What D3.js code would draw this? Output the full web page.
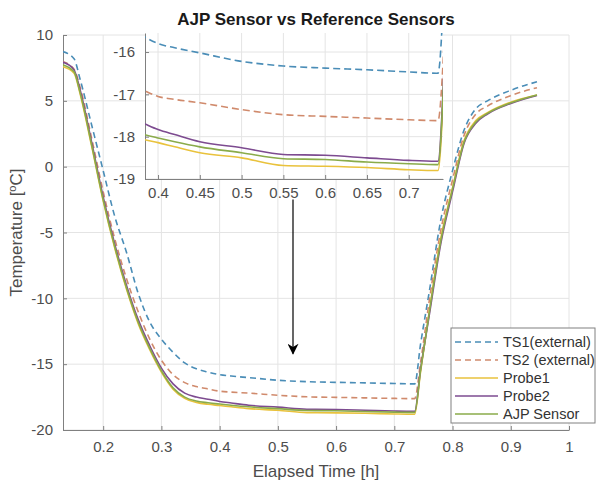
<!DOCTYPE html>
<html>
<head>
<meta charset="utf-8">
<script src="https://cdn.jsdelivr.net/npm/d3@7"></script>
<style>
  body { margin: 0; background: #fff; }
  text { font-family: "Liberation Sans", Arial, sans-serif; }
</style>
</head>
<body>
<div id="vis"></div>
<script>
// Elapsed time [h] shared by all series
const time = [0.13, 0.15, 0.16, 0.18, 0.20, 0.22, 0.24, 0.26, 0.28, 0.30, 0.32, 0.34, 0.36, 0.38,
  0.40, 0.42, 0.45, 0.50, 0.55, 0.60, 0.65, 0.70, 0.733, 0.735, 0.745, 0.76, 0.78, 0.80, 0.82,
  0.84, 0.86, 0.90, 0.945];

// Temperature [C] per sensor
const ts1 = [8.75, 8.2, 6.7, 3.2, -0.3, -3.8, -6.5, -9.6, -11.8, -13.1, -14.1, -14.9, -15.35, -15.6,
  -15.8, -15.9, -16.02, -16.22, -16.33, -16.38, -16.42, -16.47, -16.5, -16.5, -13.5, -9.5, -4.0, -0.3, 2.8,
  4.4, 5.0, 5.8, 6.45];
const ts2 = [8.0, 7.4, 6.1, 2.2, -1.9, -5.5, -8.5, -11.0, -13.1, -14.7, -15.8, -16.4, -16.7, -16.88,
  -17.05, -17.12, -17.2, -17.36, -17.48, -17.52, -17.56, -17.6, -17.62, -17.62, -14.9, -10.2, -4.8, -1.0, 2.4,
  4.0, 4.6, 5.4, 6.0];
const probe1 = [7.6, 7.1, 5.6, 1.6, -2.6, -6.2, -9.3, -11.9, -13.9, -15.6, -16.9, -17.6, -17.9, -18.05,
  -18.14, -18.24, -18.38, -18.5, -18.68, -18.7, -18.73, -18.78, -18.8, -18.8, -15.6, -11.0, -5.4, -1.6, 2.0,
  3.5, 4.1, 4.9, 5.45];
const probe2 = [7.95, 7.35, 5.9, 1.9, -2.3, -5.9, -9.0, -11.6, -13.6, -15.3, -16.5, -17.2, -17.5, -17.66,
  -17.83, -17.95, -18.12, -18.26, -18.42, -18.44, -18.5, -18.56, -18.58, -18.58, -15.4, -11.3, -5.8, -1.9, 1.8,
  3.3, 4.0, 4.8, 5.4];
const ajp = [7.75, 7.2, 5.7, 1.7, -2.5, -6.1, -9.2, -11.8, -13.8, -15.5, -16.8, -17.5, -17.8, -17.93,
  -18.03, -18.12, -18.24, -18.38, -18.52, -18.54, -18.6, -18.64, -18.66, -18.66, -15.5, -11.1, -5.6, -1.7, 1.9,
  3.4, 4.05, 4.85, 5.45];

const seriesNames = ['TS1(external)', 'TS2 (external)', 'Probe1', 'Probe2', 'AJP Sensor'];
const seriesValues = [ts1, ts2, probe1, probe2, ajp];
const seriesColors = ['#4a8db7', '#d08a6c', '#e9c23c', '#7d4b90', '#8aab4a'];
const seriesDashed = [true, true, false, false, false];

// Tick values
const xTicks = [0.2, 0.3, 0.4, 0.5, 0.6, 0.7, 0.8, 0.9, 1];
const yTicks = [-20, -15, -10, -5, 0, 5, 10];
const insetXTicks = [0.4, 0.45, 0.5, 0.55, 0.6, 0.65, 0.7];
const insetYTicks = [-19, -18, -17, -16];

const width = 598;
const height = 481;

// main plot box
const margin = { top: 35, right: 29, bottom: 51, left: 63 };

// inset plot box (pixels in the svg)
const inset = { left: 145, right: 443, top: 33, bottom: 179 };

const svg = d3.select('#vis').append('svg')
  .attr('width', width)
  .attr('height', height);

const xScale = d3.scaleLinear().domain([0.131, 1]).range([margin.left, width - margin.right]);
const yScale = d3.scaleLinear().domain([-20, 10]).range([height - margin.bottom, margin.top]);

const ixScale = d3.scaleLinear().domain([0.3844, 0.741]).range([inset.left, inset.right]);
const iyScale = d3.scaleLinear().domain([-19, -15.55]).range([inset.bottom, inset.top]);

const series = seriesNames.map((name, i) => ({
  name: name,
  color: seriesColors[i],
  dashed: seriesDashed[i],
  points: time.map((t, j) => [t, seriesValues[i][j]])
}));

const defs = svg.append('defs');
defs.append('clipPath').attr('id', 'clipMain').append('rect')
  .attr('x', margin.left).attr('y', margin.top)
  .attr('width', width - margin.right - margin.left)
  .attr('height', height - margin.bottom - margin.top);
defs.append('clipPath').attr('id', 'clipInset').append('rect')
  .attr('x', inset.left).attr('y', inset.top)
  .attr('width', inset.right - inset.left)
  .attr('height', inset.bottom - inset.top);
defs.append('marker')
  .attr('id', 'arrow')
  .attr('viewBox', '0 0 10 10')
  .attr('refX', 9).attr('refY', 5)
  .attr('markerWidth', 14).attr('markerHeight', 11)
  .attr('markerUnits', 'userSpaceOnUse')
  .attr('orient', 'auto')
  .append('path').attr('d', 'M0,0 L10,5 L0,10 L3,5 Z').attr('fill', '#000');

/************ grid + axes helper ************/
function drawAxes(g, xs, ys, xt, yt, fmt, pad) {
  const x0 = xs.range()[0], x1 = xs.range()[1];
  const y0 = ys.range()[0], y1 = ys.range()[1];

  g.append('g').selectAll('line.vg').data(xt).enter().append('line')
    .attr('x1', d => xs(d)).attr('x2', d => xs(d))
    .attr('y1', y0).attr('y2', y1)
    .attr('stroke', '#e4e4e4');
  g.append('g').selectAll('line.hg').data(yt).enter().append('line')
    .attr('x1', x0).attr('x2', x1)
    .attr('y1', d => ys(d)).attr('y2', d => ys(d))
    .attr('stroke', '#e4e4e4');

  const xAxis = d3.axisBottom(xs).tickValues(xt).tickSizeInner(-4).tickSizeOuter(0)
    .tickPadding(pad).tickFormat(fmt);
  const yAxis = d3.axisLeft(ys).tickValues(yt).tickSizeInner(-4).tickSizeOuter(0)
    .tickPadding(10).tickFormat(fmt);

  const xa = g.append('g').attr('transform', `translate(0,${y0})`).call(xAxis);
  const ya = g.append('g').attr('transform', `translate(${x0},0)`).call(yAxis);
  [xa, ya].forEach(a => {
    a.select('.domain').attr('stroke', '#808080');
    a.selectAll('.tick line').attr('stroke', '#808080');
    a.selectAll('.tick text').attr('fill', '#4d4d4d').style('font-size', '15px');
  });
}

const fmt = d => String(+d.toFixed(2));

/************ main chart ************/
const main = svg.append('g');
drawAxes(main, xScale, yScale, xTicks, yTicks, fmt, 11);

const line = d3.line().x(d => xScale(d[0])).y(d => yScale(d[1])).curve(d3.curveMonotoneX);
main.append('g').attr('clip-path', 'url(#clipMain)')
  .selectAll('path').data(series).enter().append('path')
  .attr('d', d => line(d.points))
  .attr('fill', 'none')
  .attr('stroke', d => d.color)
  .attr('stroke-width', 1.6)
  .attr('stroke-dasharray', d => d.dashed ? '6,4' : null);

/************ inset ************/
const ig = svg.append('g');
ig.append('rect')
  .attr('x', inset.left).attr('y', inset.top)
  .attr('width', inset.right - inset.left).attr('height', inset.bottom - inset.top)
  .attr('fill', '#fff');
drawAxes(ig, ixScale, iyScale, insetXTicks, insetYTicks, fmt, 8);

const iline = d3.line().x(d => ixScale(d[0])).y(d => iyScale(d[1])).curve(d3.curveMonotoneX);
ig.append('g').attr('clip-path', 'url(#clipInset)')
  .selectAll('path').data(series).enter().append('path')
  .attr('d', d => iline(d.points))
  .attr('fill', 'none')
  .attr('stroke', d => d.color)
  .attr('stroke-width', 1.6)
  .attr('stroke-dasharray', d => d.dashed ? '7,4' : null);

/************ arrow ************/
svg.append('line')
  .attr('x1', xScale(0.526)).attr('x2', xScale(0.526))
  .attr('y1', yScale(-2.5)).attr('y2', yScale(-14.2))
  .attr('stroke', '#000').attr('stroke-width', 1.2)
  .attr('marker-end', 'url(#arrow)');

/************ labels ************/
svg.append('text')
  .attr('x', (margin.left + width - margin.right) / 2).attr('y', 25)
  .attr('text-anchor', 'middle')
  .style('font-size', '17px').style('font-weight', 'bold').attr('fill', '#1a1a1a')
  .text('AJP Sensor vs Reference Sensors');

svg.append('text')
  .attr('x', (margin.left + width - margin.right) / 2).attr('y', 477)
  .attr('text-anchor', 'middle')
  .style('font-size', '17px').attr('fill', '#4d4d4d')
  .text('Elapsed Time [h]');

const yl = svg.append('text')
  .attr('transform', `translate(22,${(margin.top + height - margin.bottom) / 2}) rotate(-90)`)
  .attr('text-anchor', 'middle')
  .style('font-size', '17px').attr('fill', '#4d4d4d');
yl.append('tspan').text('Temperature [');
yl.append('tspan').attr('dy', -6).style('font-size', '11px').text('o');
yl.append('tspan').attr('dy', 6).text('C]');

/************ legend ************/
const legend = svg.append('g');
legend.append('rect')
  .attr('x', 451).attr('y', 328).attr('width', 144).attr('height', 95)
  .attr('fill', '#fff').attr('stroke', '#808080');
const li = legend.selectAll('g.item').data(series).enter().append('g')
  .attr('transform', (d, i) => `translate(455,${342 + i * 18})`);
li.append('line')
  .attr('x1', 0).attr('x2', 43).attr('y1', 0).attr('y2', 0)
  .attr('stroke', d => d.color).attr('stroke-width', 1.6)
  .attr('stroke-dasharray', d => d.dashed ? '6,4' : null);
li.append('text')
  .attr('x', 48).attr('y', 5)
  .style('font-size', '14.5px').attr('fill', '#333')
  .text(d => d.name);
</script>
</body>
</html>
